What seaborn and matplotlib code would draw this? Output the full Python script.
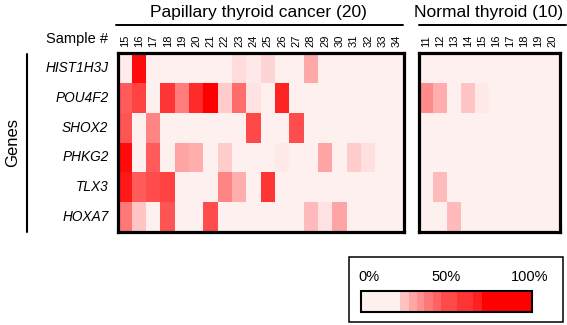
import numpy as np
import pandas as pd
import matplotlib
matplotlib.use("Agg")
import matplotlib.pyplot as plt
import seaborn as sns
from matplotlib.colors import LinearSegmentedColormap, ListedColormap, BoundaryNorm
from matplotlib.cm import ScalarMappable
from matplotlib.patches import Rectangle
from matplotlib.lines import Line2D

# ---------------- data ----------------
genes = ["HIST1H3J", "POU4F2", "SHOX2", "PHKG2", "TLX3", "HOXA7"]
cancer_samples = [str(s) for s in range(15, 35)]
normal_samples = [str(s) for s in range(11, 21)]

# Papillary thyroid cancer (percent)
cancer_hist1h3j = [2, 95, 0, 0, 0, 0, 0, 0, 8, 3, 12, 0, 0, 30, 0, 0, 0, 0, 0, 0]
cancer_pou4f2 = [62, 72, 0, 78, 48, 82, 100, 15, 55, 6, 0, 85, 0, 0, 0, 0, 0, 0, 0, 0]
cancer_shox2 = [65, 0, 45, 0, 0, 0, 0, 0, 0, 70, 0, 0, 68, 0, 0, 0, 0, 0, 0, 0]
cancer_phkg2 = [95, 0, 62, 0, 32, 28, 0, 15, 0, 0, 0, 3, 0, 0, 32, 0, 15, 7, 0, 0]
cancer_tlx3 = [90, 62, 68, 73, 0, 0, 0, 45, 28, 0, 78, 0, 0, 0, 0, 0, 0, 0, 0, 0]
cancer_hoxa7 = [50, 18, 0, 65, 0, 0, 68, 0, 0, 0, 0, 0, 0, 22, 6, 32, 0, 0, 0, 0]

# Normal thyroid (percent)
normal_hist1h3j = [0, 0, 0, 0, 0, 0, 0, 0, 0, 0]
normal_pou4f2 = [42, 28, 0, 18, 3, 0, 0, 0, 0, 0]
normal_shox2 = [0, 0, 0, 0, 0, 0, 0, 0, 0, 0]
normal_phkg2 = [0, 0, 0, 0, 0, 0, 0, 0, 0, 0]
normal_tlx3 = [0, 22, 0, 0, 0, 0, 0, 0, 0, 0]
normal_hoxa7 = [0, 0, 22, 0, 0, 0, 0, 0, 0, 0]

# legend scale steps (percent) and colours
legend_bounds = [0, 23, 28, 33, 37, 42, 47, 56, 65.5, 71, 100]
legend_colors = ["#FFF0F0", "#FFC2C2", "#FFA6A6", "#FF9090", "#FF7878",
                 "#FF6262", "#FF4A4A", "#FF3434", "#FF2020", "#FF0000"]

cancer_df = pd.DataFrame([cancer_hist1h3j, cancer_pou4f2, cancer_shox2,
                          cancer_phkg2, cancer_tlx3, cancer_hoxa7],
                         index=genes, columns=cancer_samples)
normal_df = pd.DataFrame([normal_hist1h3j, normal_pou4f2, normal_shox2,
                          normal_phkg2, normal_tlx3, normal_hoxa7],
                         index=genes, columns=normal_samples)

# ---------------- figure ----------------
sns.set_theme(style="white")
plt.rcParams["font.family"] = ["Liberation Sans", "DejaVu Sans"]
plt.rcParams["text.color"] = "black"
plt.rcParams["xtick.color"] = "black"
plt.rcParams["ytick.color"] = "black"
plt.rcParams["axes.labelcolor"] = "black"

W, H = 567, 325
fig = plt.figure(figsize=(W / 100, H / 100), dpi=100)

def fx(x):
    return x / W

def fy(y):
    return 1 - y / H

cmap = LinearSegmentedColormap.from_list("pinkred", ["#FFF0F0", "#FF0000"])

ax1 = fig.add_axes([fx(117.5), fy(232), fx(404) - fx(117.5), fy(53) - fy(232)])
ax2 = fig.add_axes([fx(419), fy(232), fx(559.5) - fx(419), fy(53) - fy(232)])

sns.heatmap(cancer_df, ax=ax1, cmap=cmap, vmin=0, vmax=100, cbar=False,
            xticklabels=True, yticklabels=True, linewidths=0)
sns.heatmap(normal_df, ax=ax2, cmap=cmap, vmin=0, vmax=100, cbar=False,
            xticklabels=True, yticklabels=False, linewidths=0)

for ax in (ax1, ax2):
    for sp in ax.spines.values():
        sp.set_visible(True)
        sp.set_color("black")
        sp.set_linewidth(2.3)
    ax.set_xlabel("")
    ax.set_ylabel("")
    ax.xaxis.tick_top()
    ax.tick_params(axis="x", top=True, bottom=False, labeltop=True,
                   labelbottom=False, length=0, pad=4, labelsize=8,
                   labelrotation=90, colors="black")

ax1.tick_params(axis="y", length=0, pad=6.5, labelsize=9.8, labelrotation=0,
                colors="black")
for lab in ax1.get_yticklabels():
    lab.set_fontstyle("italic")
ax2.tick_params(axis="y", left=False, length=0)

# headers
fig.text(fx(258), fy(12.5), "Papillary thyroid cancer (20)", ha="center",
         va="center", fontsize=12.5)
fig.text(fx(489), fy(12.5), "Normal thyroid (10)", ha="center",
         va="center", fontsize=12.5)
fig.add_artist(Line2D([fx(116), fx(403)], [fy(25), fy(25)],
                      transform=fig.transFigure, color="black", lw=1.4))
fig.add_artist(Line2D([fx(419), fx(566)], [fy(25), fy(25)],
                      transform=fig.transFigure, color="black", lw=1.4))
fig.text(fx(108), fy(39), "Sample #", ha="right", va="center", fontsize=10.5)

# Genes label + line
fig.add_artist(Line2D([fx(26.7), fx(26.7)], [fy(54), fy(232)],
                      transform=fig.transFigure, color="black", lw=1.5))
fig.text(fx(12.5), fy(143), "Genes", ha="center", va="center",
         rotation=90, fontsize=12)

# legend box with stepped scale
fig.add_artist(Rectangle((fx(348.5), fy(321.5)), fx(563) - fx(348.5),
                         fy(257) - fy(321.5), transform=fig.transFigure,
                         fill=False, edgecolor="black", lw=1.1))
cax = fig.add_axes([fx(361), fy(311.5), fx(532) - fx(361), fy(290.5) - fy(311.5)])
lnorm = BoundaryNorm(legend_bounds, len(legend_colors))
cb = fig.colorbar(ScalarMappable(norm=lnorm, cmap=ListedColormap(legend_colors)),
                  cax=cax, orientation="horizontal", spacing="proportional")
cb.set_ticks([])
cb.ax.minorticks_off()
cax.tick_params(which="both", length=0, bottom=False, top=False,
                labelbottom=False)
cb.outline.set_linewidth(1.5)
cb.outline.set_edgecolor("black")
fig.text(fx(358), fy(277), "0%", ha="left", va="center", fontsize=10.5)
fig.text(fx(446), fy(277), "50%", ha="center", va="center", fontsize=10.5)
fig.text(fx(530), fy(277), "100%", ha="center", va="center", fontsize=10.5)

fig.savefig("out.png", dpi=100)
